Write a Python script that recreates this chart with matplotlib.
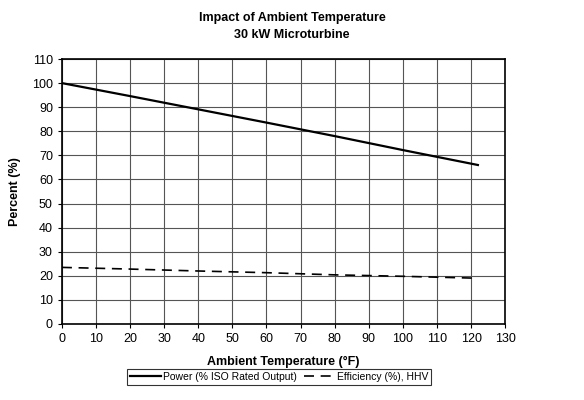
import matplotlib.pyplot as plt

plt.rcParams['font.family'] = ['Liberation Sans', 'DejaVu Sans']

# values
temp_power = [0, 20, 40, 60, 80, 100, 122]
power = [100, 94.6, 89.1, 83.6, 78.0, 72.2, 66]
temp_eff = [0, 20, 40, 60, 80, 100, 122]
efficiency = [23.5, 22.8, 22.0, 21.3, 20.4, 19.8, 19.0]

fig = plt.figure(figsize=(5.84, 4.0), dpi=100)
ax = fig.add_axes([0.106, 0.19, 0.759, 0.6625])

ax.plot(temp_power, power, color='black', lw=1.6, label='Power (% ISO Rated Output)')
ax.plot(temp_eff, efficiency, color='black', lw=1.2, ls=(0, (6, 4)),
        label='Efficiency (%), HHV')

ax.set_xlim(0, 130)
ax.set_ylim(0, 110)
ax.set_xticks(range(0, 131, 10))
ax.set_yticks(range(0, 111, 10))
ax.grid(True, color='#555555', lw=0.8)
ax.tick_params(labelsize=9, length=3)
for s in ax.spines.values():
    s.set_linewidth(1.2)

ax.set_xlabel('Ambient Temperature (°F)', fontsize=9, fontweight='bold', labelpad=8)
ax.set_ylabel('Percent (%)', fontsize=9, fontweight='bold', labelpad=8)
fig.suptitle('Impact of Ambient Temperature\n30 kW Microturbine', fontsize=9,
             fontweight='bold', y=0.97, linespacing=1.5)

leg = fig.legend(loc='lower center', bbox_to_anchor=(0.478, 0.025), ncol=2,
                 fontsize=7.5, frameon=True, fancybox=False, edgecolor='black',
                 handlelength=3, columnspacing=0.6, handletextpad=0.2,
                 borderpad=0.3)
leg.get_frame().set_linewidth(0.8)

fig.savefig('out.png', dpi=100)
